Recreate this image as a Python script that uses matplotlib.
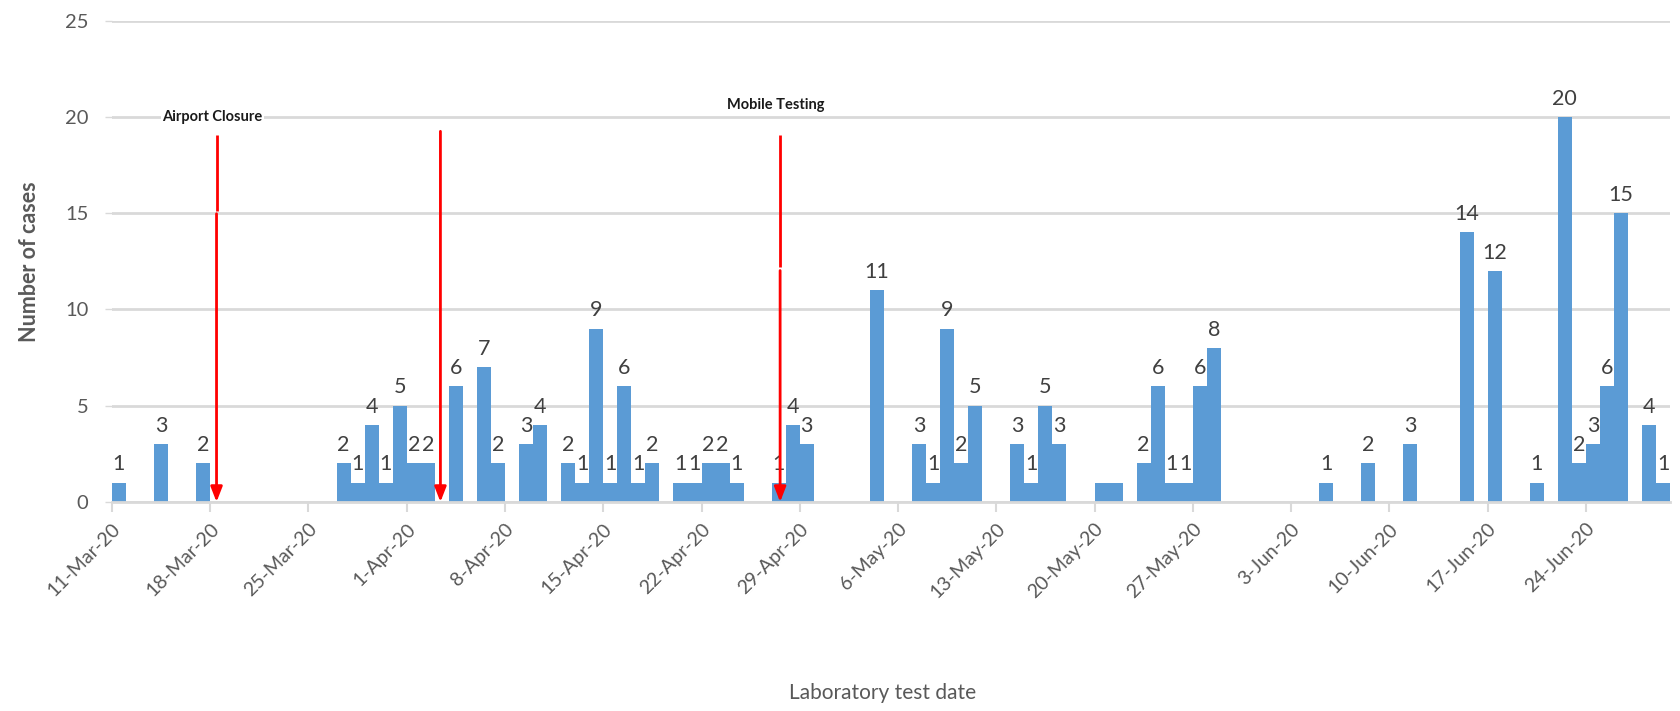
import numpy as np
import pandas as pd
import matplotlib
matplotlib.use("Agg")
import matplotlib.pyplot as plt

# ================================
# DATA
# ================================
start = pd.Timestamp("2020-03-11")
end = pd.Timestamp("2020-06-30")

dates = ["2020-03-11", "2020-03-14", "2020-03-17",
         "2020-03-27", "2020-03-28", "2020-03-29", "2020-03-30", "2020-03-31",
         "2020-04-01", "2020-04-02", "2020-04-04", "2020-04-06", "2020-04-07",
         "2020-04-09", "2020-04-10", "2020-04-12", "2020-04-13", "2020-04-14",
         "2020-04-15", "2020-04-16", "2020-04-17", "2020-04-18", "2020-04-20",
         "2020-04-21", "2020-04-22", "2020-04-23", "2020-04-24", "2020-04-27",
         "2020-04-28", "2020-04-29", "2020-05-04", "2020-05-07", "2020-05-08",
         "2020-05-09", "2020-05-10", "2020-05-11", "2020-05-14", "2020-05-15",
         "2020-05-16", "2020-05-17", "2020-05-20", "2020-05-21", "2020-05-23",
         "2020-05-24", "2020-05-25", "2020-05-26", "2020-05-27", "2020-05-28",
         "2020-06-05", "2020-06-08", "2020-06-11", "2020-06-15", "2020-06-17",
         "2020-06-20", "2020-06-22", "2020-06-23", "2020-06-24", "2020-06-25",
         "2020-06-26", "2020-06-28", "2020-06-29"]
cases = [1, 3, 2,
         2, 1, 4, 1, 5,
         2, 2, 6, 7, 2,
         3, 4, 2, 1, 9,
         1, 6, 1, 2, 1,
         1, 2, 2, 1, 1,
         4, 3, 11, 3, 1,
         9, 2, 5, 3, 1,
         5, 3, 1, 1, 2,
         6, 1, 1, 6, 8,
         1, 2, 3, 14, 12,
         1, 20, 2, 3, 6,
         15, 4, 1]
# dates whose data label is not shown in the original
unlabelled = ["2020-05-20", "2020-05-21"]

events = ["Airport Closure", "", "Mobile Testing"]
event_dates = [7.45, 23.4, 47.6]  # days after 11-Mar (arrow positions)

# ================================
# STYLE
# ================================
plt.rcParams['font.family'] = ['Lato', 'DejaVu Sans']
bar_color = "#5B9BD5"
grid_color = "#D9D9D9"
text_color = "#595959"

day = np.array([(pd.Timestamp(d) - start).days for d in dates])
n_days = (end - start).days

fig = plt.figure(figsize=(16.81, 7.11), dpi=100)
ax = fig.add_axes([0.0666, 0.294, 0.9269, 0.677])

bars = ax.bar(day + 0.5, cases, width=1.0, color=bar_color,
              linewidth=0, zorder=2)
labels = ["" if d in unlabelled else str(c) for d, c in zip(dates, cases)]
ax.bar_label(bars, labels=labels, padding=6, fontsize=15.5, color="#404040")

ax.set_xlim(0, n_days)
ax.set_ylim(0, 25)
ax.set_yticks(range(0, 26, 5))
ax.yaxis.grid(True, color=grid_color, linewidth=2, zorder=0)
ax.set_axisbelow(True)

tick_days = np.arange(0, n_days, 7)
tick_labels = [f"{(start + pd.Timedelta(days=int(t))).day}-"
               f"{(start + pd.Timedelta(days=int(t))).strftime('%b-%y')}"
               for t in tick_days]
ax.set_xticks(tick_days)
ax.set_xticklabels(tick_labels, rotation=45, ha="right",
                   rotation_mode="anchor", fontsize=14, color=text_color)
ax.tick_params(axis="x", length=7, width=1.5, color=grid_color, pad=6)
ax.tick_params(axis="y", length=5, width=1, color=grid_color, pad=12,
               labelsize=14.5, labelcolor=text_color)

for s in ["top", "right", "left"]:
    ax.spines[s].set_visible(False)
ax.spines["bottom"].set_color(grid_color)
ax.spines["bottom"].set_linewidth(2)

ax.set_ylabel("Number of cases", fontsize=15.5, fontweight="bold",
              color=text_color, labelpad=18)
fig.text(0.525, 0.026, "Laboratory test date", ha="center", va="center",
         fontsize=15, color=text_color)

# event arrows
tops = [19.05, 19.25, 19.05]
gaps = [15.05, None, 12.1]
for name, x, top, gap in zip(events, event_dates, tops, gaps):
    if gap is not None:
        ax.plot([x, x], [top, gap + 0.08], color="red", lw=2, zorder=3,
                solid_capstyle="butt")
        start_y = gap - 0.08
    else:
        start_y = top
    ax.annotate("", xy=(x, 0), xytext=(x, start_y),
                arrowprops=dict(arrowstyle="-|>,head_length=0.9,head_width=0.35",
                                color="red", lw=2, shrinkA=0, shrinkB=0),
                zorder=3)
    if name:
        ax.text(x - 0.3, 20.0 if name == "Airport Closure" else 20.6, name,
                ha="center", va="center", fontsize=10.5, fontweight="bold",
                color="#1a1a1a",
                bbox=dict(facecolor="white", edgecolor="none", pad=1),
                zorder=4)

fig.savefig("out.png", dpi=100)
